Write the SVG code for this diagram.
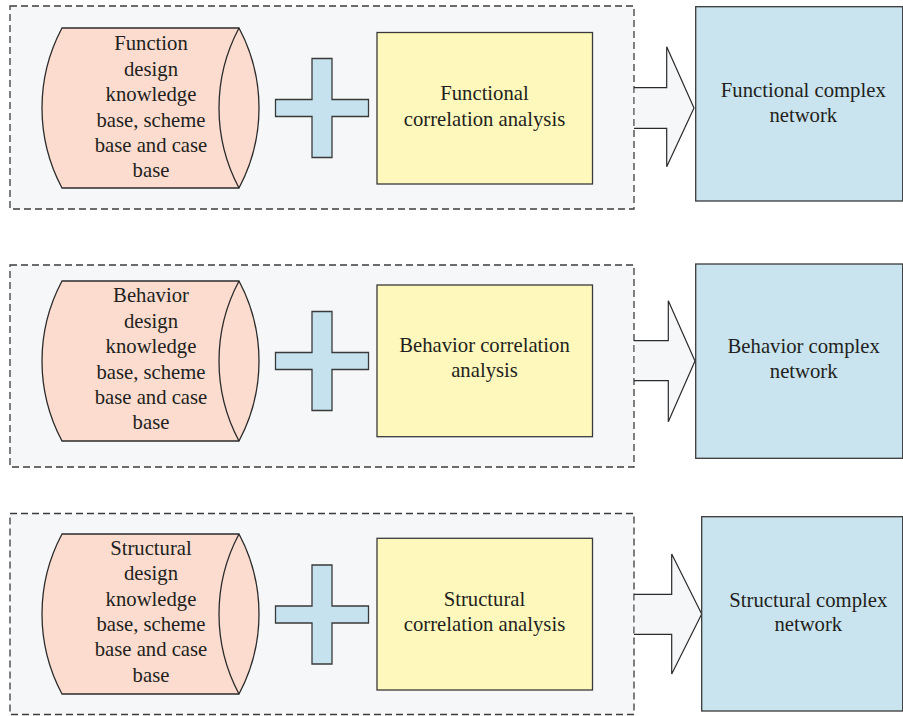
<svg xmlns="http://www.w3.org/2000/svg" width="903" height="716" viewBox="0 0 903 716">
<style>
.frame{fill:#f6f7f9;stroke:#3c3c3c;stroke-width:1.3;stroke-dasharray:7 4}
.cyl{fill:#fcdccf;stroke:#2b2b2b;stroke-width:1.3}
.cylin{fill:none;stroke:#2b2b2b;stroke-width:1.3}
.plus{fill:#c5e2ee;stroke:#3a3a3a;stroke-width:1.3}
.ana{fill:#fff8bc;stroke:#3a3a3a;stroke-width:1.3}
.net{fill:#c9e4ef;stroke:#3a3a3a;stroke-width:1.3}
.arrfill{fill:#f6f7f9;stroke:none}
.arrline{fill:none;stroke:#2b2b2b;stroke-width:1.2;stroke-linejoin:miter}
text{font-family:"Liberation Serif","Times New Roman",serif;font-size:20.7px;fill:#231f20;text-anchor:middle}
</style>
<defs>
<path id="cylshape" d="M62,-80 L239,-80 A170,170 0 0 1 239,80 L62,80 A170,170 0 0 1 62,-80 Z"/>
<path id="cylinner" d="M239,-80 A170,170 0 0 0 239,80"/>
<polygon id="plusshape" points="-10,-49.5 10,-49.5 10,-8.5 46.5,-8.5 46.5,8.5 10,8.5 10,49.5 -10,49.5 -10,8.5 -46.5,8.5 -46.5,-8.5 -10,-8.5"/>
</defs>

<g id="frames">
<rect class="frame" x="10" y="6" width="624" height="203"/>
<rect class="frame" x="10" y="265" width="624" height="202"/>
<rect class="frame" x="10" y="513.5" width="624" height="201"/>
</g>

<g id="kb-function">
<g transform="translate(0,108)"><use href="#cylshape" class="cyl"/><use href="#cylinner" class="cylin"/></g>
<text x="151" y="50">Function</text>
<text x="151" y="75.5">design</text>
<text x="151" y="101">knowledge</text>
<text x="151" y="126.5">base, scheme</text>
<text x="151" y="152">base and case</text>
<text x="151" y="177">base</text>
</g>
<g id="plus-1"><use href="#plusshape" class="plus" transform="translate(322,108)"/></g>
<g id="analysis-function">
<rect class="ana" x="377" y="32.5" width="215.5" height="151.5"/>
<text x="484.5" y="100">Functional</text>
<text x="484.5" y="126">correlation analysis</text>
</g>

<g id="kb-behavior">
<g transform="translate(0,361)"><use href="#cylshape" class="cyl"/><use href="#cylinner" class="cylin"/></g>
<text x="151" y="302.3">Behavior</text>
<text x="151" y="327.7">design</text>
<text x="151" y="353">knowledge</text>
<text x="151" y="378.5">base, scheme</text>
<text x="151" y="404">base and case</text>
<text x="151" y="429.3">base</text>
</g>
<g id="plus-2"><use href="#plusshape" class="plus" transform="translate(322,361)"/></g>
<g id="analysis-behavior">
<rect class="ana" x="377" y="285" width="215.5" height="151.7"/>
<text x="484.5" y="351.7">Behavior correlation</text>
<text x="484.5" y="377.3">analysis</text>
</g>

<g id="kb-structural">
<g transform="translate(0,614)"><use href="#cylshape" class="cyl"/><use href="#cylinner" class="cylin"/></g>
<text x="151" y="555">Structural</text>
<text x="151" y="580.3">design</text>
<text x="151" y="605.7">knowledge</text>
<text x="151" y="631">base, scheme</text>
<text x="151" y="656.3">base and case</text>
<text x="151" y="681.7">base</text>
</g>
<g id="plus-3"><use href="#plusshape" class="plus" transform="translate(322,614.5)"/></g>
<g id="analysis-structural">
<rect class="ana" x="377" y="538.3" width="215.5" height="151.7"/>
<text x="484.5" y="606">Structural</text>
<text x="484.5" y="631">correlation analysis</text>
</g>

<g id="connectors">
<polygon class="arrfill" points="634.8,87.7 666.7,87.7 666.7,46.7 694,108 666.7,166.7 666.7,128.3 634.8,128.3"/>
<polyline class="arrline" points="634,87.7 666.7,87.7 666.7,46.7 694,108 666.7,166.7 666.7,128.3 634,128.3"/>
<polygon class="arrfill" points="634.8,340.7 668.3,340.7 668.3,300.7 695,361 668.3,421.7 668.3,380.7 634.8,380.7"/>
<polyline class="arrline" points="634,340.7 668.3,340.7 668.3,300.7 695,361 668.3,421.7 668.3,380.7 634,380.7"/>
<polygon class="arrfill" points="634.8,594.3 671.7,594.3 671.7,554 701.7,614 671.7,674 671.7,634.3 634.8,634.3"/>
<polyline class="arrline" points="634,594.3 671.7,594.3 671.7,554 701.7,614 671.7,674 671.7,634.3 634,634.3"/>
</g>

<g id="net-function">
<rect class="net" x="695.7" y="6.7" width="207" height="194.3"/>
<text x="803.3" y="96.7">Functional complex</text>
<text x="803.3" y="121.7">network</text>
</g>
<g id="net-behavior">
<rect class="net" x="695.7" y="264" width="207" height="194.3"/>
<text x="803.7" y="353.3">Behavior complex</text>
<text x="803.7" y="378.3">network</text>
</g>
<g id="net-structural">
<rect class="net" x="701.7" y="516.7" width="201" height="194.3"/>
<text x="808.3" y="607.3">Structural complex</text>
<text x="808.3" y="631">network</text>
</g>
</svg>
